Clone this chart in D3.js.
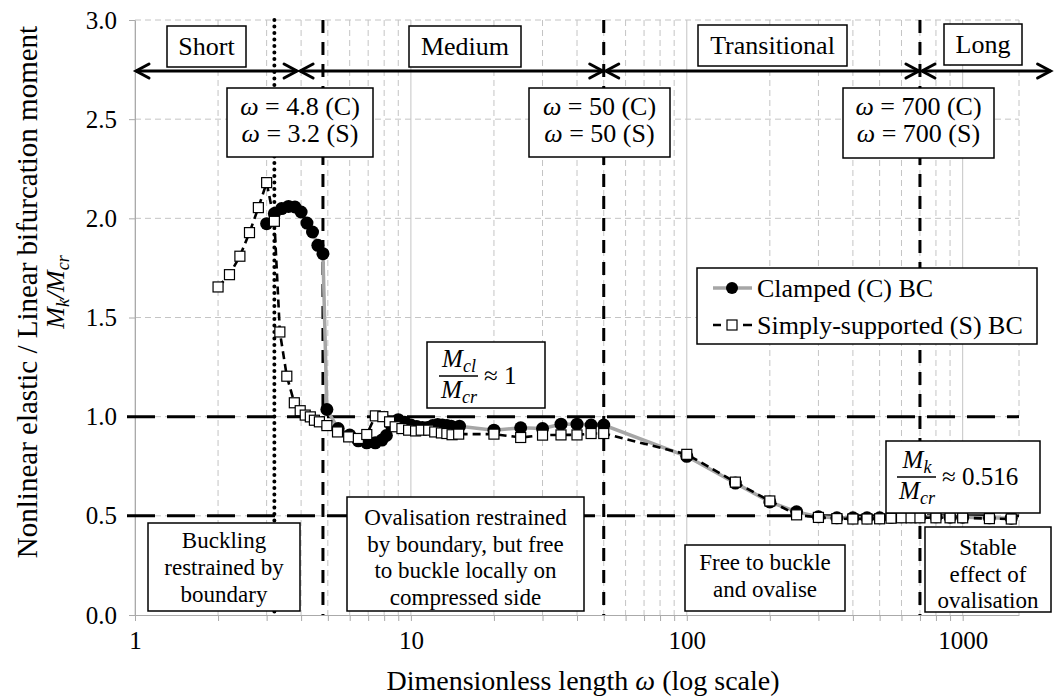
<!DOCTYPE html>
<html>
<head>
<meta charset="utf-8">
<title>Nonlinear elastic / linear bifurcation moment</title>
<style>
  body { margin: 0; background: #fff; }
  .grid-major { stroke: #c4c4c4; stroke-width: 1; }
  .grid-minor { stroke: #c4c4c4; stroke-width: 1; stroke-dasharray: 6,4; }
  .axis path, .axis line { stroke: #aaa; }
  .box { fill: #fff; stroke: #000; stroke-width: 1.5; }
</style>
</head>
<body>
<script src="https://d3js.org/d3.v7.min.js"></script>
<script>
// tick values
const xMajor = [1, 10, 100, 1000];
const yTicks = [0, 0.5, 1.0, 1.5, 2.0, 2.5, 3.0];

// clamped (C) boundary condition
const clampedOmega = [3.0, 3.2, 3.4, 3.6, 3.8, 4.0, 4.2, 4.4, 4.6, 4.8, 4.96,
  5.45, 6.0, 6.45, 6.92, 7.43, 7.85, 8.15, 8.5, 9.0, 9.5, 10, 10.5, 11, 11.5, 12,
  12.5, 13, 13.5, 14, 15, 20, 25, 30, 35, 40, 45, 50,
  100, 150, 200, 250, 300, 350, 400, 450, 500, 550, 600, 650, 700, 800, 900, 1000, 1250, 1500];
const clampedRatio = [1.973, 2.024, 2.049, 2.06, 2.057, 2.032, 1.976, 1.931, 1.864, 1.822, 1.036,
  0.94, 0.907, 0.878, 0.868, 0.868, 0.882, 0.905, 0.955, 0.985, 0.972, 0.958, 0.95, 0.945, 0.945, 0.955,
  0.96, 0.958, 0.955, 0.952, 0.952, 0.932, 0.944, 0.94, 0.962, 0.962, 0.958, 0.958,
  0.80, 0.665, 0.57, 0.52, 0.495, 0.49, 0.49, 0.49, 0.49, 0.492, 0.495, 0.495, 0.495, 0.495, 0.493, 0.493, 0.49, 0.488];

// simply-supported (S) boundary condition
const simpleOmega = [2.0, 2.2, 2.4, 2.6, 2.8, 3.0, 3.2, 3.35, 3.55, 3.78, 3.97, 4.14, 4.32, 4.47, 4.66, 4.96,
  5.42, 5.95, 6.45, 6.92, 7.43, 7.91, 8.37, 8.77, 9.28, 9.81, 10.4, 10.9, 11.6, 12.2, 12.9, 13.5, 14.1, 14.9,
  20, 25, 30, 35, 40, 45, 50,
  100, 150, 200, 250, 300, 350, 400, 450, 500, 550, 600, 650, 700, 800, 900, 1000, 1250, 1500];
const simpleRatio = [1.654, 1.716, 1.809, 1.928, 2.054, 2.18, 1.985, 1.427, 1.204, 1.07, 1.03, 1.008, 0.999, 0.982, 0.974, 0.955,
  0.923, 0.898, 0.89, 0.91, 1.004, 1.0, 0.974, 0.949, 0.94, 0.932, 0.928, 0.932, 0.932, 0.923, 0.918, 0.915, 0.909, 0.912,
  0.912, 0.895, 0.907, 0.908, 0.908, 0.915, 0.915,
  0.81, 0.67, 0.575, 0.505, 0.492, 0.486, 0.484, 0.484, 0.485, 0.488, 0.49, 0.49, 0.49, 0.49, 0.49, 0.49, 0.486, 0.484];

// limits between regions
const dottedLimit = [3.2];
const dashedLimits = [4.8, 50, 700];
const refRatios = [1.0, 0.5];
const regionNames = ["Short", "Medium", "Transitional", "Long"];
const regionBounds = [1, 3.9, 50, 700, 2100];

const width = 1054, height = 697;
const plot = { left: 135, right: 1019, top: 20, bottom: 615 };
const serif = '"Liberation Serif"';

const x = d3.scaleLog().domain([1, 1600]).range([plot.left, plot.right]);
const y = d3.scaleLinear().domain([0, 3]).range([plot.bottom, plot.top]);

const svg = d3.select("body").append("svg")
  .attr("width", width)
  .attr("height", height);

// minor log ticks
const xMinor = [];
xMajor.forEach(d => {
  for (let k = 2; k <= 9; k++) if (k * d < 1600) xMinor.push(k * d);
});

// gridlines
svg.append("g").selectAll("line")
  .data(xMinor.concat([1600]))
  .join("line")
  .attr("class", "grid-minor")
  .attr("x1", d => x(d)).attr("x2", d => x(d))
  .attr("y1", plot.top).attr("y2", plot.bottom);

svg.append("g").selectAll("line")
  .data(xMajor)
  .join("line")
  .attr("class", "grid-major")
  .attr("x1", d => x(d)).attr("x2", d => x(d))
  .attr("y1", plot.top).attr("y2", plot.bottom);

svg.append("g").selectAll("line")
  .data(yTicks.filter(d => d > 0))
  .join("line")
  .attr("class", "grid-minor")
  .attr("x1", plot.left).attr("x2", plot.right)
  .attr("y1", d => y(d)).attr("y2", d => y(d));

// axes
svg.append("g")
  .attr("class", "axis")
  .attr("transform", `translate(0,${plot.bottom})`)
  .call(d3.axisBottom(x)
    .tickValues(xMajor.concat(xMinor))
    .tickFormat(d => xMajor.includes(d) ? d : "")
    .tickSize(6).tickPadding(10).tickSizeOuter(0));

svg.append("g")
  .attr("class", "axis")
  .attr("transform", `translate(${plot.left},0)`)
  .call(d3.axisLeft(y)
    .tickValues(yTicks)
    .tickFormat(d3.format(".1f"))
    .tickSize(6).tickPadding(12).tickSizeOuter(0));

svg.selectAll(".axis").attr("font-family", null).attr("font-size", null);
svg.selectAll(".axis text")
  .style("font-family", serif)
  .style("font-size", "25px")
  .attr("fill", "#000");
svg.selectAll(".axis .domain").attr("stroke", "#aaa");

// reference lines
svg.append("g").selectAll("line")
  .data(refRatios)
  .join("line")
  .attr("x1", plot.left - 8).attr("x2", plot.right)
  .attr("y1", d => y(d)).attr("y2", d => y(d))
  .attr("stroke", "#000").attr("stroke-width", 3)
  .attr("stroke-dasharray", "28,12");

svg.append("g").selectAll("line")
  .data(dashedLimits)
  .join("line")
  .attr("x1", d => x(d)).attr("x2", d => x(d))
  .attr("y1", plot.top).attr("y2", plot.bottom)
  .attr("stroke", "#000").attr("stroke-width", 3)
  .attr("stroke-dasharray", "13,9");

svg.append("g").selectAll("line")
  .data(dottedLimit)
  .join("line")
  .attr("x1", d => x(d)).attr("x2", d => x(d))
  .attr("y1", plot.top).attr("y2", plot.bottom)
  .attr("stroke", "#000").attr("stroke-width", 4)
  .attr("stroke-linecap", "round")
  .attr("stroke-dasharray", "0.1,6.4");

// region arrows
const arrowY = 71;
function chevron(g, px, dir) {
  g.append("path")
    .attr("d", `M${px + dir * 13},${arrowY - 7} L${px},${arrowY} L${px + dir * 13},${arrowY + 7}`)
    .attr("fill", "none").attr("stroke", "#000").attr("stroke-width", 3)
    .attr("stroke-linejoin", "miter").attr("stroke-linecap", "round");
}
const arrows = svg.append("g");
regionNames.forEach((name, i) => {
  const a = x(regionBounds[i]) + (i === 0 ? 1 : 2);
  const b = x(regionBounds[i + 1]) - 1;
  arrows.append("line")
    .attr("x1", a).attr("x2", b)
    .attr("y1", arrowY).attr("y2", arrowY)
    .attr("stroke", "#000").attr("stroke-width", 3);
  chevron(arrows, a, 1);
  chevron(arrows, b, -1);
});

// series
const clamped = clampedOmega.map((w, i) => [w, clampedRatio[i]]);
const simple = simpleOmega.map((w, i) => [w, simpleRatio[i]]);
const line = d3.line().x(d => x(d[0])).y(d => y(d[1]));

svg.append("path")
  .datum(clamped)
  .attr("d", line)
  .attr("fill", "none")
  .attr("stroke", "#a6a6a6")
  .attr("stroke-width", 3.5);

svg.append("g").selectAll("circle")
  .data(clamped)
  .join("circle")
  .attr("cx", d => x(d[0]))
  .attr("cy", d => y(d[1]))
  .attr("r", 6.5)
  .attr("fill", "#000");

svg.append("path")
  .datum(simple)
  .attr("d", line)
  .attr("fill", "none")
  .attr("stroke", "#000")
  .attr("stroke-width", 2.6)
  .attr("stroke-dasharray", "8,5");

svg.append("g").selectAll("rect")
  .data(simple)
  .join("rect")
  .attr("x", d => x(d[0]) - 5)
  .attr("y", d => y(d[1]) - 5)
  .attr("width", 10).attr("height", 10)
  .attr("fill", "#fff")
  .attr("stroke", "#000")
  .attr("stroke-width", 1.2);

// plain serif text helper
function label(g, px, py, size, anchor) {
  return g.append("text")
    .attr("x", px).attr("y", py)
    .attr("text-anchor", anchor || "middle")
    .style("font-family", serif)
    .attr("font-size", size);
}

// text boxes
function textBox(b) {
  const g = svg.append("g");
  g.append("rect").attr("class", "box")
    .attr("x", b.x).attr("y", b.y).attr("width", b.w).attr("height", b.h);
  b.lines.forEach((ln, i) => {
    const t = label(g, b.x + b.w / 2, b.base + i * b.step, b.size);
    if (ln.startsWith("ω")) {
      t.append("tspan").style("font-style", "italic").text("ω");
      t.append("tspan").text(ln.slice(1));
    } else {
      t.text(ln);
    }
  });
}

[
  { x: 167, y: 26, w: 79, h: 41, base: 55, step: 0, size: 26, lines: ["Short"] },
  { x: 409, y: 26, w: 112, h: 41, base: 55, step: 0, size: 26, lines: ["Medium"] },
  { x: 698, y: 25, w: 149, h: 41, base: 54, step: 0, size: 26, lines: ["Transitional"] },
  { x: 944, y: 24, w: 78, h: 41, base: 53, step: 0, size: 26, lines: ["Long"] },
  { x: 227, y: 88, w: 146, h: 69, base: 115, step: 27, size: 26, lines: ["ω = 4.8 (C)", "ω = 3.2 (S)"] },
  { x: 529, y: 88, w: 141, h: 69, base: 115, step: 27, size: 26, lines: ["ω = 50 (C)", "ω = 50 (S)"] },
  { x: 843, y: 88, w: 151, h: 70, base: 115, step: 27, size: 26, lines: ["ω = 700 (C)", "ω = 700 (S)"] },
  { x: 148, y: 523, w: 152, h: 88, base: 548, step: 27, size: 23, lines: ["Buckling", "restrained by", "boundary"] },
  { x: 347, y: 497, w: 237, h: 114, base: 525, step: 26.7, size: 23,
    lines: ["Ovalisation restrained", "by boundary, but free", "to buckle locally on", "compressed side"] },
  { x: 685, y: 545, w: 160, h: 66, base: 570, step: 27, size: 23, lines: ["Free to buckle", "and ovalise"] },
  { x: 925, y: 527, w: 126, h: 85, base: 555, step: 26.5, size: 23, lines: ["Stable", "effect of", "ovalisation"] }
].forEach(textBox);

// math annotations
function mathSym(g, cx, yb, sub, size) {
  const t = label(g, cx, yb, size).style("font-style", "italic");
  t.append("tspan").text("M");
  t.append("tspan").attr("font-size", size * 0.72).attr("dy", size * 0.18).text(sub);
}
function fraction(b) {
  const g = svg.append("g");
  g.append("rect").attr("class", "box")
    .attr("x", b.x).attr("y", b.y).attr("width", b.w).attr("height", b.h);
  mathSym(g, b.fx, b.midY - 9, b.num, 25);
  g.append("line")
    .attr("x1", b.fx - 20).attr("x2", b.fx + 19)
    .attr("y1", b.midY).attr("y2", b.midY)
    .attr("stroke", "#000").attr("stroke-width", 1.3);
  mathSym(g, b.fx, b.midY + 22, "cr", 25);
  label(g, b.fx + 25, b.midY + 8, 25, "start").text(b.rest);
}
fraction({ x: 427, y: 342, w: 118, h: 66, fx: 459, midY: 376, num: "cl", rest: "≈ 1" });
fraction({ x: 886, y: 441, w: 154, h: 72, fx: 917, midY: 477, num: "k", rest: "≈ 0.516" });

// legend
const legend = svg.append("g");
legend.append("rect").attr("class", "box")
  .attr("x", 697).attr("y", 268).attr("width", 340).attr("height", 76);
legend.append("line")
  .attr("x1", 713).attr("x2", 752).attr("y1", 288).attr("y2", 288)
  .attr("stroke", "#a6a6a6").attr("stroke-width", 3.5);
legend.append("circle").attr("cx", 732).attr("cy", 288).attr("r", 6).attr("fill", "#000");
legend.append("line")
  .attr("x1", 713).attr("x2", 752).attr("y1", 325).attr("y2", 325)
  .attr("stroke", "#000").attr("stroke-width", 2.6).attr("stroke-dasharray", "8,22,9");
legend.append("rect")
  .attr("x", 727).attr("y", 320).attr("width", 10).attr("height", 10)
  .attr("fill", "#fff").attr("stroke", "#000").attr("stroke-width", 1.2);
label(legend, 757, 297, 26, "start").text("Clamped (C) BC");
label(legend, 757, 334, 26, "start").text("Simply-supported (S) BC");

// axis titles
const xt = label(svg, 583, 690, 28);
xt.append("tspan").text("Dimensionless length ");
xt.append("tspan").style("font-style", "italic").text("ω");
xt.append("tspan").text(" (log scale)");

label(svg, 0, 0, 29)
  .attr("transform", "translate(37,292) rotate(-90)")
  .text("Nonlinear elastic / Linear bifurcation moment");

const yt2 = label(svg, 0, 0, 26)
  .attr("transform", "translate(64,292) rotate(-90)")
  .style("font-style", "italic");
yt2.append("tspan").text("M");
yt2.append("tspan").attr("font-size", 18).attr("dy", 5).text("k");
yt2.append("tspan").attr("dy", -5).text("/M");
yt2.append("tspan").attr("font-size", 18).attr("dy", 5).text("cr");
</script>
</body>
</html>
